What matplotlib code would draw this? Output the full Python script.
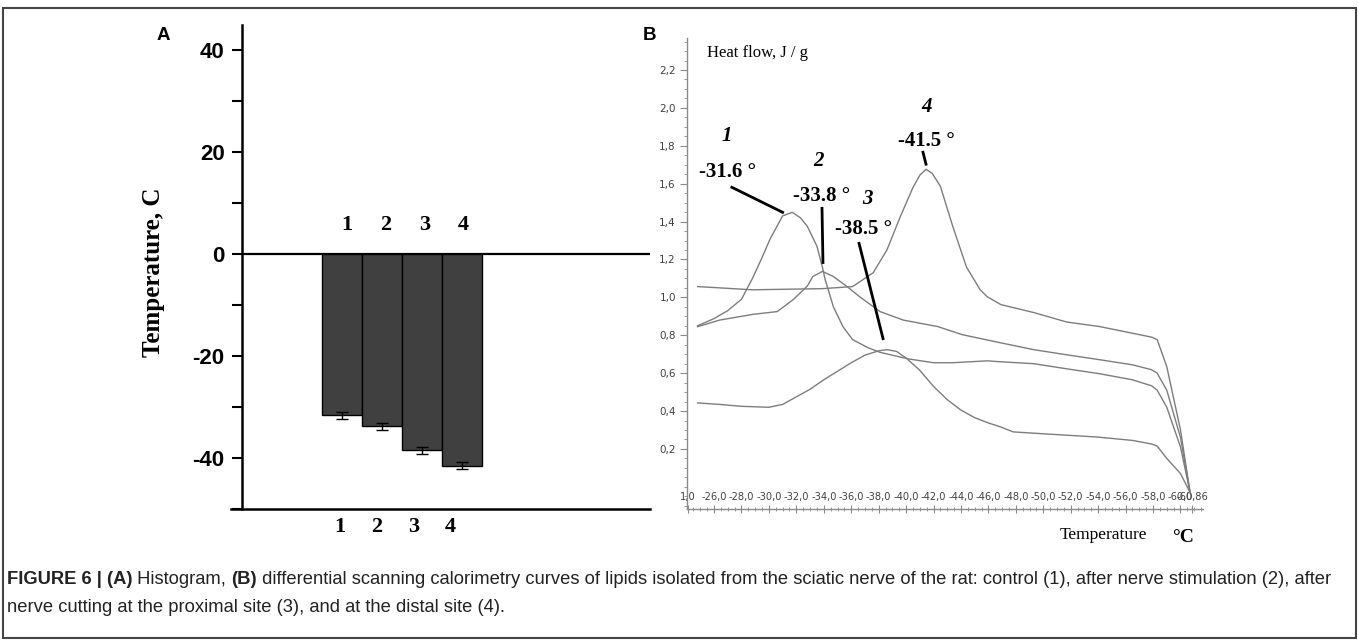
import matplotlib
matplotlib.use("Agg")
import matplotlib.pyplot as plt
from matplotlib import font_manager
from matplotlib.patches import Rectangle
from matplotlib.ticker import MultipleLocator

# ---------------- data ----------------
groups = ["1", "2", "3", "4"]
peak_temps = [-31.6, -33.8, -38.5, -41.5]
peak_err = [0.7, 0.7, 0.7, 0.7]

# DSC curves (temperature degC, heat flow J/g)
c1_t = [-24.8, -26.0, -27.0, -28.0, -28.8, -29.5, -30.1, -31.0, -31.7, -32.3, -32.8, -33.5, -33.9,
        -34.1, -34.7, -35.4, -36.1, -37.2, -38.1, -40.1, -42.0, -43.4, -45.9, -46.9, -49.3, -51.7,
        -54.1, -56.5, -57.9, -58.3, -59.0, -60.0, -60.7]
c1_v = [0.85, 0.888, 0.93, 0.99, 1.10, 1.21, 1.31, 1.43, 1.449, 1.42, 1.375, 1.27, 1.16,
        1.094, 0.95, 0.845, 0.777, 0.735, 0.71, 0.676, 0.655, 0.655, 0.665, 0.66, 0.65, 0.623,
        0.597, 0.565, 0.533, 0.51, 0.42, 0.21, -0.03]

c2_t = [-24.8, -26.4, -28.8, -30.6, -31.0, -31.8, -32.8, -33.2, -33.9, -34.7, -35.7, -36.6, -38.1,
        -39.8, -42.3, -44.1, -46.9, -49.3, -51.7, -54.1, -56.5, -57.9, -58.3, -59.0, -60.0, -60.7]
c2_v = [0.845, 0.88, 0.91, 0.925, 0.946, 0.99, 1.06, 1.11, 1.137, 1.11, 1.057, 1.004, 0.925,
        0.88, 0.846, 0.803, 0.76, 0.724, 0.697, 0.671, 0.644, 0.618, 0.60, 0.51, 0.26, -0.03]

c3_t = [-24.8, -26.4, -28.0, -30.0, -31.0, -32.0, -33.0, -34.0, -35.0, -36.0, -37.0, -38.0, -38.6,
        -39.3, -40.0, -41.0, -42.0, -43.0, -44.0, -45.0, -46.0, -46.9, -47.8, -50.0, -53.9, -56.5,
        -57.9, -58.3, -59.0, -60.0, -60.7]
c3_v = [0.443, 0.435, 0.425, 0.42, 0.435, 0.475, 0.515, 0.565, 0.61, 0.655, 0.695, 0.718, 0.724,
        0.715, 0.68, 0.615, 0.53, 0.46, 0.405, 0.365, 0.337, 0.316, 0.29, 0.28, 0.263, 0.245,
        0.226, 0.215, 0.15, 0.07, -0.03]

c4_t = [-24.8, -28.8, -33.9, -36.1, -37.6, -38.6, -39.6, -40.5, -41.0, -41.45, -41.9, -42.5, -43.4,
        -44.4, -45.4, -45.9, -46.9, -49.3, -51.7, -54.1, -57.9, -58.3, -59.0, -60.0, -60.7]
c4_v = [1.057, 1.04, 1.046, 1.057, 1.13, 1.25, 1.43, 1.58, 1.645, 1.676, 1.655, 1.586, 1.375,
        1.16, 1.04, 1.004, 0.962, 0.92, 0.87, 0.846, 0.79, 0.777, 0.634, 0.30, -0.03]

curve_labels = ["1", "2", "3", "4"]
peak_labels = ["-31.6 °", "-33.8 °", "-38.5 °", "-41.5 °"]

b_xticks = [-26, -28, -30, -32, -34, -36, -38, -40, -42, -44, -46, -48, -50, -52, -54, -56, -58, -60]
b_yticks = [0.2, 0.4, 0.6, 0.8, 1.0, 1.2, 1.4, 1.6, 1.8, 2.0, 2.2]

caption1 = [("FIGURE 6 | (A)", True), (" Histogram, ", False), ("(B)", True),
            (" differential scanning calorimetry curves of lipids isolated from the sciatic nerve of the rat: "
             "control (1), after nerve stimulation (2), after", False)]
caption2 = "nerve cutting at the proximal site (3), and at the distal site (4)."

# ---------------- figure ----------------
W, H = 1358, 641
fig = plt.figure(figsize=(W / 100, H / 100), dpi=100)
fig.patch.set_facecolor("white")
plt.rcParams["axes.unicode_minus"] = False

avail = {f.name for f in font_manager.fontManager.ttflist}
narrow = "Liberation Sans Narrow" if "Liberation Sans Narrow" in avail else "Liberation Sans"
cap_size = 11.5 if narrow == "Liberation Sans Narrow" else 13.2

def fx(px):
    return px / W

def fy(py):
    return 1 - py / H

# border
fig.add_artist(Rectangle((fx(3), fy(638)), fx(1353), 630 / H, transform=fig.transFigure,
                         fill=False, edgecolor="#444444", lw=1.5))

# ---------------- panel A ----------------
axA = fig.add_axes([fx(242), fy(509), fx(650 - 242), (509 - 25) / H])
xpos = list(range(1, len(groups) + 1))
axA.bar(xpos, peak_temps, width=1.0, color="#404040", edgecolor="black", linewidth=1.0, zorder=2)
axA.errorbar(xpos, peak_temps, yerr=peak_err, fmt="none", ecolor="black", elinewidth=1.0,
             capsize=4, capthick=1.0, zorder=3)
axA.set_xlim(-1.5, 8.7)
axA.set_ylim(-50, 45)
axA.axhline(0, color="black", lw=1.6, zorder=1)
for s in ["top", "right", "bottom"]:
    axA.spines[s].set_visible(False)
axA.spines["left"].set_linewidth(1.8)
axA.plot([-11 / 408, 1.0], [0, 0], transform=axA.transAxes, color="black", lw=1.8, clip_on=False)
axA.set_yticks([-40, -20, 0, 20, 40])
axA.yaxis.set_minor_locator(MultipleLocator(10))
axA.tick_params(axis="y", which="both", length=7.5, width=1.5, direction="out", pad=5)
axA.set_yticklabels(["-40", "-20", "0", "20", "40"], fontfamily="Liberation Sans",
                    fontweight="bold", fontsize=16)
axA.set_xticks([x - 0.05 - 0.08 * i for i, x in enumerate(xpos)])
axA.set_xticklabels(groups, fontfamily="Liberation Serif", fontweight="bold", fontsize=16)
axA.tick_params(axis="x", length=0, pad=6)
for i, g in enumerate(groups):
    axA.text(xpos[i] + 0.12 - 0.03 * i, 5.7, g, ha="center", va="center",
             fontfamily="Liberation Serif", fontweight="bold", fontsize=16)
axA.set_ylabel("Temperature, C", fontfamily="Liberation Serif", fontweight="bold", fontsize=18)
axA.yaxis.set_label_coords(-0.189, 0.49)
fig.text(fx(163), fy(35), "A", fontfamily="Liberation Sans", fontweight="bold", fontsize=13.5,
         ha="center", va="center")

# ---------------- panel B ----------------
axB = fig.add_axes([fx(687), fy(509), fx(1203 - 687), (509 - 38) / H])
gray = "#7d7d7d"
for t, v in [(c1_t, c1_v), (c2_t, c2_v), (c3_t, c3_v), (c4_t, c4_v)]:
    axB.plot(t, v, color=gray, lw=1.0)
axB.set_xlim(-24.03, -61.64)
axB.set_ylim(-0.117, 2.369)
for s in ["top", "right"]:
    axB.spines[s].set_visible(False)
for s in ["left", "bottom"]:
    axB.spines[s].set_color("#8a8a8a")
    axB.spines[s].set_linewidth(1.0)

fmt = lambda v: f"{v:.1f}".replace(".", ",")
axB.set_yticks(b_yticks)
axB.set_yticklabels([fmt(v) for v in b_yticks])
axB.yaxis.set_minor_locator(MultipleLocator(0.05))
axB.tick_params(axis="y", which="major", length=5, width=0.8, color="#8a8a8a",
                labelsize=7.5, labelcolor="#404040", pad=3)
axB.tick_params(axis="y", which="minor", length=2.5, width=0.6, color="#8a8a8a")

xt = [-24.1] + b_xticks + [-60.86]
xl = ["1,0"] + [fmt(v) for v in b_xticks] + ["-60,86"]
axB.set_xticks(xt)
axB.set_xticklabels(xl)
axB.xaxis.set_minor_locator(MultipleLocator(0.5))
axB.tick_params(axis="x", which="major", length=6, width=0.8, color="#8a8a8a", direction="inout",
                labelsize=7.1, labelcolor="#404040", pad=-15)
axB.tick_params(axis="x", which="minor", length=3, width=0.6, color="#8a8a8a", direction="inout")
for lab in axB.get_xticklabels() + axB.get_yticklabels():
    lab.set_fontfamily("DejaVu Sans")

serif = "Liberation Serif"
# curve numbers (italic bold) and peak labels
num_pos = [(-26.95, 1.851), (-33.65, 1.718), (-37.15, 1.517), (-41.52, 2.004)]
lab_pos = [(-27.0, 1.66), (-33.87, 1.533), (-36.9, 1.359), (-41.45, 1.824)]
leaders = [((-27.3, 1.581), (-31.0, 1.449)), ((-33.87, 1.47), (-33.94, 1.184)),
           ((-36.57, 1.285), (-38.32, 0.782)), ((-41.23, 1.766), (-41.45, 1.703))]
for i in range(4):
    axB.text(*num_pos[i], curve_labels[i], ha="center", va="center", fontfamily=serif,
             fontweight="bold", fontstyle="italic", fontsize=15)
    axB.text(*lab_pos[i], peak_labels[i], ha="center", va="center", fontfamily=serif,
             fontweight="bold", fontsize=15)
    (x0, y0), (x1, y1) = leaders[i]
    axB.plot([x0, x1], [y0, y1], color="black", lw=2.0)

fig.text(fx(707), fy(53), "Heat flow, J / g", fontfamily=serif, fontsize=12, ha="left", va="center")
fig.text(fx(1103), fy(535), "Temperature", fontfamily=serif, fontsize=12.5, ha="center", va="center")
fig.text(fx(1183), fy(537), "°C", fontfamily=serif, fontweight="bold", fontsize=14, ha="center",
         va="center")
fig.text(fx(650), fy(35), "B", fontfamily="Liberation Sans", fontweight="bold", fontsize=13.5,
         ha="center", va="center")

# ---------------- caption ----------------
fig.canvas.draw()
r = fig.canvas.get_renderer()
x = 7
for txt, bold in caption1:
    t = fig.text(fx(x), fy(580), txt, fontfamily=narrow, fontweight="bold" if bold else "normal",
                 fontsize=cap_size, ha="left", va="center", color="#222222")
    bb = t.get_window_extent(renderer=r)
    x = bb.x1
fig.text(fx(7), fy(607), caption2, fontfamily=narrow, fontsize=cap_size, ha="left", va="center",
         color="#222222")

fig.savefig("out.png", dpi=100, facecolor="white")
